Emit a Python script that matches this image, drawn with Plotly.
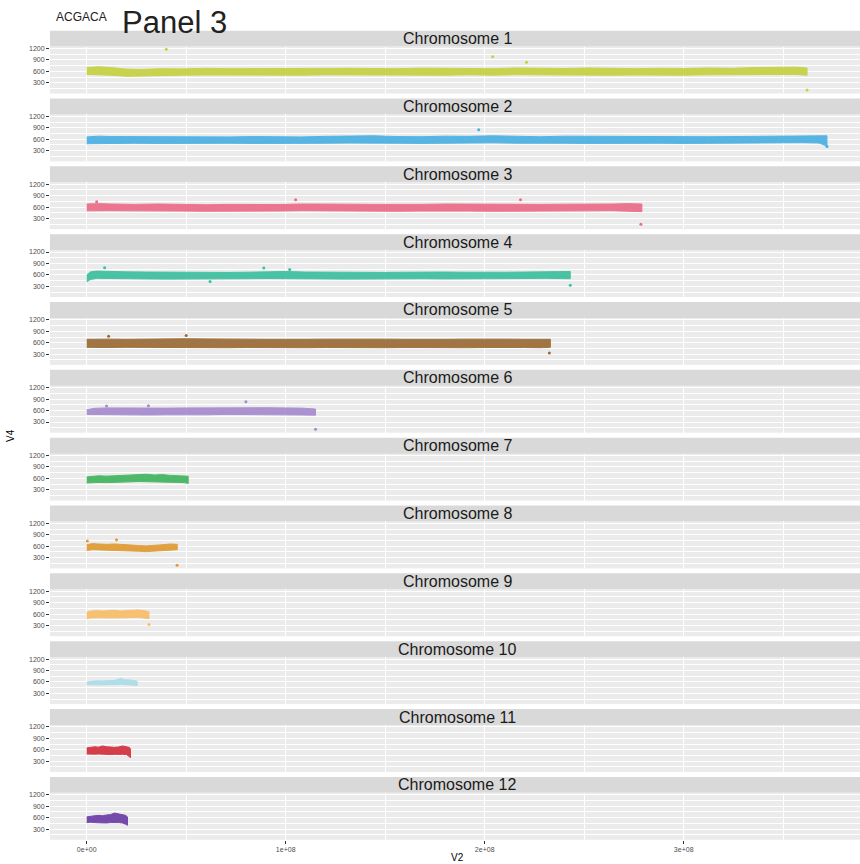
import plotly.graph_objects as go

# ---- data: read-depth band per chromosome (position in Mb, lower / upper edge of V4) ----
chrom_names = [f"Chromosome {i}" for i in range(1, 13)]

pos1 = [0, 6, 12, 20, 28, 36, 48, 60, 72, 84, 96, 108, 120, 132, 144, 156, 168, 180, 192, 204, 216, 228, 240, 252, 264, 276, 288, 300, 312, 324, 336, 348, 356, 362]
hi1 = [700, 720, 700, 660, 650, 670, 665, 680, 670, 675, 680, 670, 690, 680, 675, 670, 685, 680, 690, 670, 690, 680, 675, 690, 680, 670, 680, 675, 690, 680, 700, 700, 710, 690]
lo1 = [520, 510, 500, 470, 480, 495, 500, 505, 500, 510, 505, 500, 510, 505, 500, 510, 505, 500, 510, 500, 515, 510, 505, 510, 500, 505, 510, 500, 510, 505, 515, 520, 520, 500]

pos2 = [0, 6, 12, 24, 36, 48, 60, 72, 84, 96, 108, 120, 132, 144, 156, 168, 180, 192, 204, 216, 228, 240, 252, 264, 276, 288, 300, 312, 324, 336, 348, 360, 368, 372]
hi2 = [660, 680, 670, 665, 660, 670, 665, 660, 670, 665, 660, 675, 680, 690, 670, 665, 680, 675, 690, 670, 665, 680, 675, 670, 665, 660, 670, 665, 670, 675, 690, 700, 700, 690]
lo2 = [480, 500, 490, 495, 490, 495, 490, 495, 490, 495, 490, 495, 500, 505, 495, 490, 500, 495, 505, 495, 490, 495, 490, 495, 490, 495, 490, 495, 500, 495, 505, 510, 500, 420]

pos3 = [0, 6, 12, 24, 36, 48, 60, 72, 84, 96, 108, 120, 132, 144, 156, 168, 180, 192, 204, 216, 228, 240, 252, 264, 272, 279]
hi3 = [680, 690, 680, 670, 680, 670, 660, 670, 660, 665, 680, 670, 675, 670, 665, 670, 680, 675, 670, 665, 670, 675, 670, 680, 690, 680]
lo3 = [500, 510, 505, 500, 505, 495, 490, 495, 490, 495, 505, 495, 500, 495, 490, 495, 500, 495, 490, 495, 500, 495, 500, 505, 500, 480]

pos4 = [0, 2, 5, 10, 20, 30, 40, 50, 60, 70, 80, 90, 100, 110, 120, 130, 140, 150, 160, 170, 180, 190, 200, 210, 220, 230, 238, 243]
hi4 = [600, 680, 700, 690, 680, 675, 670, 665, 670, 665, 670, 680, 690, 675, 670, 665, 660, 665, 670, 680, 675, 670, 665, 670, 675, 690, 700, 690]
lo4 = [420, 480, 510, 505, 500, 495, 490, 495, 490, 495, 500, 505, 510, 500, 495, 490, 485, 490, 495, 500, 495, 490, 495, 500, 505, 510, 510, 500]

pos5 = [0, 5, 10, 20, 30, 40, 50, 60, 70, 80, 90, 100, 110, 120, 130, 140, 150, 160, 170, 180, 190, 200, 210, 220, 228, 233]
hi5 = [690, 700, 695, 690, 700, 695, 705, 700, 690, 695, 690, 685, 690, 695, 700, 705, 695, 690, 685, 690, 695, 700, 695, 690, 700, 690]
lo5 = [480, 470, 475, 480, 475, 470, 480, 475, 470, 475, 480, 475, 470, 475, 480, 475, 470, 475, 480, 475, 470, 475, 480, 475, 470, 480]

pos6 = [0, 4, 10, 20, 30, 40, 50, 60, 70, 80, 90, 100, 108, 115]
hi6 = [620, 660, 670, 665, 660, 665, 670, 675, 680, 685, 675, 670, 665, 640]
lo6 = [500, 490, 495, 490, 485, 490, 495, 490, 500, 505, 495, 490, 485, 480]

pos7 = [0, 3, 6, 10, 14, 18, 22, 26, 30, 34, 38, 42, 46, 49, 51]
hi7 = [640, 660, 670, 660, 670, 665, 690, 700, 710, 690, 700, 680, 670, 680, 660]
lo7 = [480, 490, 495, 490, 495, 500, 510, 520, 515, 505, 510, 500, 495, 490, 470]

pos8 = [0, 3, 6, 10, 14, 18, 22, 26, 30, 34, 38, 42, 45.5]
hi8 = [640, 670, 660, 650, 660, 640, 630, 620, 610, 620, 640, 660, 650]
lo8 = [490, 510, 505, 500, 495, 480, 475, 470, 460, 465, 480, 500, 510]

pos9 = [0, 2, 5, 8, 11, 14, 17, 20, 23, 26, 29, 31.3]
hi9 = [650, 680, 690, 680, 690, 700, 680, 690, 700, 710, 690, 660]
lo9 = [480, 500, 510, 505, 500, 510, 500, 505, 510, 515, 500, 480]

pos10 = [0, 2, 5, 8, 11, 14, 17, 19, 22, 25.4]
hi10 = [600, 620, 630, 625, 630, 640, 690, 660, 650, 620]
lo10 = [520, 530, 525, 520, 525, 530, 540, 535, 530, 510]

pos11 = [0, 2, 4, 6, 8, 10, 12, 14, 16, 18, 20, 21.5, 22]
hi11 = [650, 660, 680, 670, 700, 680, 670, 665, 675, 700, 680, 660, 620]
lo11 = [490, 480, 485, 490, 495, 480, 475, 480, 485, 480, 475, 420, 390]

pos12 = [0, 2, 4, 6, 8, 10, 12, 14, 16, 18, 19.5, 20.5]
hi12 = [620, 640, 650, 660, 650, 670, 680, 720, 700, 690, 660, 620]
lo12 = [470, 480, 470, 465, 470, 460, 470, 475, 470, 460, 430, 400]

# isolated windows away from the main band (position Mb, V4)
out_x = [[40, 204, 221, 362], [197, 372], [5, 105, 218, 278.5], [9, 62, 89, 102, 243],
         [11, 50, 232.5], [10, 31, 80, 115], [], [0.3, 15, 45.4], [31.3], [], [], []]
out_y = [[1183, 985, 839, 112], [850, 410], [740, 790, 790, 150], [790, 430, 780, 740, 330],
         [770, 790, 330], [720, 730, 830, 110], [], [740, 770, 100], [330], [], [], []]

colors = ["#c5d13f", "#4ab0e3", "#ec6b86", "#3cbf9f", "#9a6b35", "#a58bcf",
          "#41b45f", "#e09a32", "#f8bd68", "#a9dde8", "#d3303d", "#6a3da5"]

y_ticks = [300, 600, 900, 1200]
y_minor = [150, 450, 750, 1050]
x_ticks = [0, 1e8, 2e8, 3e8]
x_ticklabels = ["0e+00", "1e+08", "2e+08", "3e+08"]

positions = [pos1, pos2, pos3, pos4, pos5, pos6, pos7, pos8, pos9, pos10, pos11, pos12]
highs = [hi1, hi2, hi3, hi4, hi5, hi6, hi7, hi8, hi9, hi10, hi11, hi12]
lows = [lo1, lo2, lo3, lo4, lo5, lo6, lo7, lo8, lo9, lo10, lo11, lo12]

# ---- layout geometry (pixels) ----
W, H = 860, 864
LEFT = 50
STRIP_TOP0 = 28.7
STRIP_H = 16
PANEL_H = 47
PERIOD = 68
X_RANGE = [-1.844e7, 3.886e8]
Y_RANGE = [20, 1250]
FONT = "Liberation Sans, Arial, sans-serif"


def fx(p):
    return p / W


def fy(p):
    return 1 - p / H


fig = go.Figure()
layout = dict(
    width=W, height=H, margin=dict(l=0, r=0, t=0, b=0),
    paper_bgcolor="white", plot_bgcolor="#ebebeb", showlegend=False,
    font=dict(family=FONT), shapes=[], annotations=[],
)

for i in range(12):
    n = i + 1
    xa = "x" if n == 1 else f"x{n}"
    ya = "y" if n == 1 else f"y{n}"
    xs = [p * 1e6 for p in positions[i]]
    band_x = xs + xs[::-1]
    band_y = highs[i] + lows[i][::-1]
    fig.add_trace(go.Scatter(
        x=band_x, y=band_y, mode="lines", fill="toself",
        fillcolor=colors[i], line=dict(color=colors[i], width=1),
        opacity=0.92, xaxis=xa, yaxis=ya, hoverinfo="skip",
    ))
    if out_x[i]:
        fig.add_trace(go.Scatter(
            x=[p * 1e6 for p in out_x[i]], y=out_y[i], mode="markers",
            marker=dict(color=colors[i], size=3), xaxis=xa, yaxis=ya,
        ))

    strip_top = STRIP_TOP0 + PERIOD * i
    panel_top = strip_top + STRIP_H
    panel_bot = panel_top + PANEL_H
    last = n == 12

    layout["xaxis" if n == 1 else f"xaxis{n}"] = dict(
        domain=[fx(LEFT), 1], anchor=ya, range=X_RANGE,
        tickvals=x_ticks, ticktext=x_ticklabels,
        showticklabels=last, ticks="outside" if last else "",
        ticklen=3, tickcolor="#333333", tickwidth=1,
        tickfont=dict(size=7, color="#4d4d4d"),
        showgrid=True, gridcolor="white", gridwidth=1.1, zeroline=False,
        minor=dict(tickvals=[0.5e8, 1.5e8, 2.5e8, 3.5e8], showgrid=True,
                   gridcolor="white", gridwidth=0.5),
        showline=False,
    )
    layout["yaxis" if n == 1 else f"yaxis{n}"] = dict(
        domain=[fy(panel_bot), fy(panel_top)], anchor=xa, range=Y_RANGE,
        tickvals=y_ticks, ticks="outside", ticklen=3, tickcolor="#333333",
        tickwidth=1, tickfont=dict(size=7, color="#4d4d4d"),
        showgrid=True, gridcolor="white", gridwidth=1.1, zeroline=False,
        minor=dict(tickvals=y_minor, showgrid=True, gridcolor="white", gridwidth=0.5),
        showline=False,
    )
    layout["shapes"].append(dict(
        type="rect", xref="paper", yref="paper",
        x0=fx(LEFT), x1=1, y0=fy(panel_top), y1=fy(strip_top),
        fillcolor="#d9d9d9", line=dict(width=0), layer="below",
    ))
    layout["annotations"].append(dict(
        text=chrom_names[i], xref="paper", yref="paper",
        x=fx(457), y=fy(strip_top + STRIP_H / 2), xanchor="center", yanchor="middle",
        showarrow=False, font=dict(size=16, color="#1a1a1a", family=FONT),
    ))

# axis titles and headings
layout["annotations"] += [
    dict(text="V2", xref="paper", yref="paper", x=fx(457), y=fy(857),
         xanchor="center", yanchor="middle", showarrow=False,
         font=dict(size=10, color="#000000")),
    dict(text="V4", xref="paper", yref="paper", x=fx(11), y=fy(435),
         xanchor="center", yanchor="middle", textangle=-90, showarrow=False,
         font=dict(size=10, color="#000000")),
    dict(text="ACGACA", xref="paper", yref="paper", x=fx(54), y=fy(15),
         xanchor="left", yanchor="middle", showarrow=False,
         font=dict(size=12, color="#222222")),
    dict(text="Panel 3", xref="paper", yref="paper", x=fx(120), y=fy(21),
         xanchor="left", yanchor="middle", showarrow=False,
         font=dict(size=31, color="#222222")),
]

fig.update_layout(**layout)
fig.write_html("out.html")
